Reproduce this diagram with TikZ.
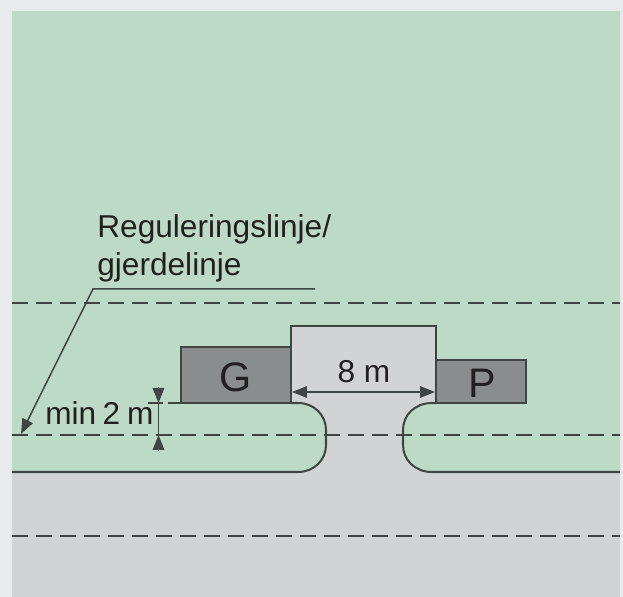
\documentclass[tikz,border=0pt]{standalone}
\usepackage{fontspec}
\setmainfont{Liberation Sans}
\usetikzlibrary{arrows.meta}
\definecolor{pagegrey}{HTML}{E9EAEC}
\definecolor{plotgreen}{HTML}{BDDAC6}
\definecolor{roadgrey}{HTML}{D2D3D5}
\definecolor{shedgrey}{HTML}{8A8D8D}
\definecolor{linegrey}{HTML}{3F4543}
\definecolor{textgrey}{HTML}{231F20}
\tikzset{
    outline/.style={draw=linegrey, line width=1.15pt},
    thinline/.style={draw=linegrey, line width=0.85pt},
    dashline/.style={thinline, dash pattern=on 9.1pt off 4.55pt},
    tipline/.style={thinline, -{Triangle[length=0.3cm, width=0.23cm]}},
    label/.style={text=textgrey, inner sep=0pt, font=\fontsize{18}{18}\selectfont},
    biglabel/.style={label, font=\fontsize{23.5}{24}\selectfont},
}
\begin{document}
\begin{tikzpicture}[x=0.02cm, y=-0.02cm]
    \useasboundingbox (0,0) rectangle (623,597);
    % Background, road and plot
    \fill[pagegrey] (0,0) rectangle (623,597);
    \fill[roadgrey] (12,11) rectangle (620,597);
    \fill[plotgreen] (12,11) -- (620,11) -- (620,472) -- (432,472)
        .. controls (415,472) and (403,460) .. (403,445) -- (403,430)
        .. controls (403,415) and (415,403) .. (432,403) -- (436,403)
        -- (436,326) -- (291,326) -- (291,403) -- (298,403)
        .. controls (314,403) and (326,415) .. (326,430) -- (326,445)
        .. controls (326,460) and (314,472) .. (298,472) -- (12,472) -- cycle;

    % Dashed lines
    \foreach \y in {303,435,536}
        \draw[dashline] (12,\y) -- (620,\y);

    % Kerb edges
    \draw[outline] (12,472) -- (298,472)
        .. controls (314,472) and (326,460) .. (326,445) -- (326,430)
        .. controls (326,415) and (314,403) .. (298,403) -- (291,403);
    \draw[outline] (620,472) -- (432,472)
        .. controls (415,472) and (403,460) .. (403,445) -- (403,430)
        .. controls (403,415) and (415,403) .. (432,403) -- (436,403);

    % Buildings
    \draw[outline] (291,403) -- (291,326) -- (436,326) -- (436,403);
    \filldraw[outline, fill=shedgrey] (181,347) rectangle (291,403);
    \filldraw[outline, fill=shedgrey] (436,360) rectangle (526,403);
    \node[biglabel] (garage) at (236,377) {G};
    \node[biglabel] (parking) at (482,383) {P};

    % Leader line
    \node[label, anchor=base west] (regline) at (97,238) {Reguleringslinje/};
    \node[label, anchor=base west] (fenceline) at (97,276) {gjerdelinje};
    \coordinate (leadA) at (315,289);
    \coordinate (leadB) at (93,289);
    \coordinate (leadC) at (21,434);
    \draw[tipline] (leadA) -- (leadB) -- (leadC);

    % Width of the entrance
    \coordinate (widthL) at (292,392);
    \coordinate (widthR) at (435,392);
    \draw[tipline, {Triangle[length=0.3cm, width=0.23cm]}-{Triangle[length=0.3cm, width=0.23cm]}] (widthL) -- (widthR);
    \node[label] (widthtext) at (364,372) {8 m};

    % Setback distance
    \node[label, anchor=base west] (setback) at (45,425) {min\hspace{-1.4pt} 2\hspace{-1pt} m};
    \coordinate (setA) at (158.5,403);
    \coordinate (setB) at (158.5,435);
    \coordinate (setC) at (158.5,387);
    \coordinate (setD) at (158.5,451);
    \coordinate (tickA) at (148,403);
    \coordinate (tickB) at (163,403);
    \coordinate (tickC) at (168,403);
    \coordinate (tickD) at (181,403);
    \draw[thinline] (setA) -- (setB);
    \draw[thinline] (tickA) -- (tickB);
    \draw[thinline] (tickC) -- (tickD);
    \draw[tipline] (setC) -- (setA);
    \draw[tipline] (setD) -- (setB);
\end{tikzpicture}
\end{document}
